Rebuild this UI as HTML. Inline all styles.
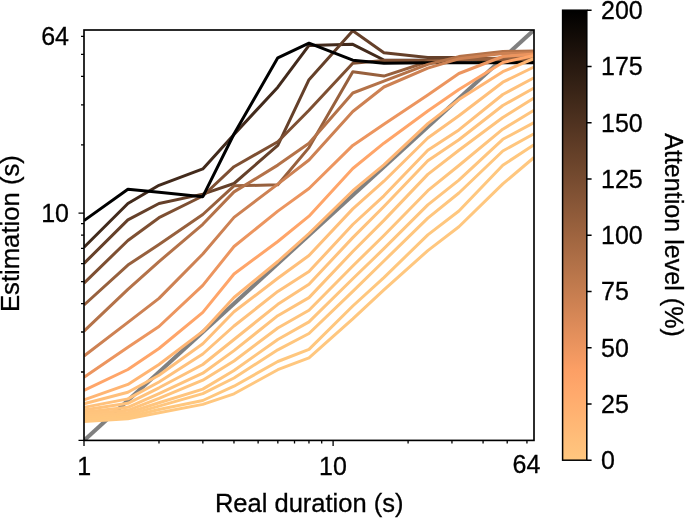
<!DOCTYPE html>
<html><head><meta charset="utf-8"><title>Estimation vs real duration</title>
<style>html,body{margin:0;padding:0;background:#fff}body{width:685px;height:518px;overflow:hidden}svg{display:block}text{font-family:"Liberation Sans",Arial,Helvetica,sans-serif;fill:#000}</style></head><body>
<svg width="685" height="518" viewBox="0 0 685 518">
<defs><linearGradient id="cg" x1="0" y1="0" x2="0" y2="1">
<stop offset="0.00" stop-color="#000000"/>
<stop offset="0.05" stop-color="#100a06"/>
<stop offset="0.10" stop-color="#20140d"/>
<stop offset="0.15" stop-color="#2f1e13"/>
<stop offset="0.20" stop-color="#3f2819"/>
<stop offset="0.25" stop-color="#4f3220"/>
<stop offset="0.30" stop-color="#5f3c26"/>
<stop offset="0.35" stop-color="#6e462c"/>
<stop offset="0.40" stop-color="#7e5033"/>
<stop offset="0.45" stop-color="#8e5a39"/>
<stop offset="0.50" stop-color="#9e643f"/>
<stop offset="0.55" stop-color="#ad6e46"/>
<stop offset="0.60" stop-color="#bd784c"/>
<stop offset="0.65" stop-color="#cd8152"/>
<stop offset="0.70" stop-color="#dd8b59"/>
<stop offset="0.75" stop-color="#ec955f"/>
<stop offset="0.80" stop-color="#fc9f65"/>
<stop offset="0.85" stop-color="#ffa96c"/>
<stop offset="0.90" stop-color="#ffb372"/>
<stop offset="0.95" stop-color="#ffbd79"/>
<stop offset="1.00" stop-color="#ffc77f"/>
</linearGradient><filter id="bl" x="-5%" y="-5%" width="110%" height="110%"><feGaussianBlur stdDeviation="0.45"/></filter><clipPath id="cp"><rect x="84" y="30" width="450" height="410.4"/></clipPath></defs>
<rect width="685" height="518" fill="#fff"/>
<g clip-path="url(#cp)" filter="url(#bl)">
<line x1="84" y1="440.4" x2="534" y2="30" stroke="#808080" stroke-width="4"/>
<polyline points="84,247.3 127.9,203.5 159,185.3 202.8,168.9 234,134.5 277.8,87.2 309,45.4 352.8,44.3 383.9,60 427.8,60.3 458.9,60 502.8,60.5 534,60.5" fill="none" stroke="#422a1b" stroke-width="3" stroke-linejoin="round" stroke-linecap="butt"/>
<polyline points="84,263.4 127.9,219.9 159,203.5 202.8,194.1 234,183.5 277.8,145.4 309,79.7 352.8,30.8 383.9,52.7 427.8,57.4 458.9,57.5 502.8,59 534,59.3" fill="none" stroke="#654029" stroke-width="3" stroke-linejoin="round" stroke-linecap="butt"/>
<polyline points="84,283.1 127.9,240.5 159,217.7 202.8,196 234,166.7 277.8,141.7 309,110.3 352.8,63.2 383.9,60.5 427.8,60.5 458.9,60 502.8,59.5 534,59" fill="none" stroke="#7e5033" stroke-width="3" stroke-linejoin="round" stroke-linecap="butt"/>
<polyline points="84,305 127.9,265.1 159,244.5 202.8,214.5 234,185.8 277.8,184.8 309,147.6 352.8,71.7 383.9,76.1 427.8,61.8 458.9,60 502.8,58 534,57.5" fill="none" stroke="#97603d" stroke-width="3" stroke-linejoin="round" stroke-linecap="butt"/>
<polyline points="84,220.6 127.9,189.2 159,192.3 202.8,196.7 234,134 277.8,57.8 309,43.2 352.8,60.2 383.9,63.2 427.8,62.7 458.9,62.8 502.8,62.8 534,62.8" fill="none" stroke="#000000" stroke-width="3" stroke-linejoin="round" stroke-linecap="butt"/>
<polyline points="84,331.2 127.9,289.3 159,261.6 202.8,224.3 234,191.9 277.8,165.1 309,143.2 352.8,93 383.9,81.2 427.8,64.4 458.9,56.6 502.8,51.5 534,51" fill="none" stroke="#b47248" stroke-width="3" stroke-linejoin="round" stroke-linecap="butt"/>
<polyline points="84,356 127.9,322.4 159,298.4 202.8,254 234,217.4 277.8,184.1 309,160 352.8,111.5 383.9,87 427.8,68.1 458.9,58.8 502.8,53.6 534,52.8" fill="none" stroke="#cd8152" stroke-width="3" stroke-linejoin="round" stroke-linecap="butt"/>
<polyline points="84,377.3 127.9,347.2 159,326.5 202.8,285.4 234,246.5 277.8,211.1 309,188.5 352.8,145.4 383.9,124.2 427.8,95 458.9,73.5 502.8,56.5 534,54" fill="none" stroke="#ec955f" stroke-width="3" stroke-linejoin="round" stroke-linecap="butt"/>
<polyline points="84,390.4 127.9,369.5 159,348.5 202.8,312.4 234,274 277.8,241.5 309,216.2 352.8,168.5 383.9,143.2 427.8,111 458.9,89.5 502.8,62.5 534,55.5" fill="none" stroke="#ffa569" stroke-width="3" stroke-linejoin="round" stroke-linecap="butt"/>
<polyline points="84,399.8 127.9,384.4 159,364.5 202.8,331.4 234,297.5 277.8,261.5 309,233.5 352.8,190.7 383.9,164.8 427.8,123.6 458.9,99.6 502.8,71.7 534,58.5" fill="none" stroke="#ffb573" stroke-width="3" stroke-linejoin="round" stroke-linecap="butt"/>
<polyline points="84,403.8 127.9,392.3 159,375.2 202.8,343.8 234,311.8 277.8,278.3 309,255.5 352.8,208.9 383.9,181.2 427.8,138 458.9,115.8 502.8,82.2 534,67" fill="none" stroke="#ffbf7a" stroke-width="3" stroke-linejoin="round" stroke-linecap="butt"/>
<polyline points="84,407.4 127.9,398.9 159,382 202.8,354 234,326 277.8,291.4 309,271.6 352.8,224.5 383.9,195.8 427.8,150.3 458.9,129.9 502.8,94.5 534,77.7" fill="none" stroke="#ffc17b" stroke-width="3" stroke-linejoin="round" stroke-linecap="butt"/>
<polyline points="84,410.1 127.9,403.3 159,387.8 202.8,364.5 234,339.5 277.8,304.3 309,284.3 352.8,237.6 383.9,206.5 427.8,160.8 458.9,139.8 502.8,105.5 534,88" fill="none" stroke="#ffc27c" stroke-width="3" stroke-linejoin="round" stroke-linecap="butt"/>
<polyline points="84,412.2 127.9,407.3 159,393.6 202.8,373.2 234,350.6 277.8,315.7 309,297.6 352.8,251.5 383.9,220.4 427.8,174.4 458.9,150.3 502.8,117.5 534,98" fill="none" stroke="#ffc37c" stroke-width="3" stroke-linejoin="round" stroke-linecap="butt"/>
<polyline points="84,414 127.9,410.3 159,398.4 202.8,380.2 234,361 277.8,328 309,310.2 352.8,266 383.9,235.5 427.8,190.7 458.9,165.5 502.8,129.2 534,110.3" fill="none" stroke="#ffc47d" stroke-width="3" stroke-linejoin="round" stroke-linecap="butt"/>
<polyline points="84,415.9 127.9,412.8 159,402.7 202.8,389.1 234,370.5 277.8,339.5 309,321.9 352.8,278.8 383.9,248.7 427.8,204.9 458.9,180.2 502.8,139.3 534,122.6" fill="none" stroke="#ffc57e" stroke-width="3" stroke-linejoin="round" stroke-linecap="butt"/>
<polyline points="84,417.8 127.9,415 159,406.1 202.8,393.6 234,378 277.8,349.8 309,333.5 352.8,291.4 383.9,261 427.8,218.1 458.9,193 502.8,151 534,133.7" fill="none" stroke="#ffc67e" stroke-width="3" stroke-linejoin="round" stroke-linecap="butt"/>
<polyline points="84,419.7 127.9,417 159,409.5 202.8,400.5 234,386.2 277.8,361.5 309,349.4 352.8,306 383.9,277.6 427.8,234.9 458.9,211 502.8,165.2 534,144.8" fill="none" stroke="#ffc77e" stroke-width="3" stroke-linejoin="round" stroke-linecap="butt"/>
<polyline points="84,421.4 127.9,418.7 159,412.7 202.8,404.4 234,393.8 277.8,369.7 309,357.8 352.8,318.8 383.9,289.8 427.8,250.6 458.9,226.8 502.8,183.9 534,157.5" fill="none" stroke="#ffc77f" stroke-width="3" stroke-linejoin="round" stroke-linecap="butt"/>
</g>
<rect x="84" y="30" width="450" height="410.4" fill="none" stroke="#000" stroke-width="1.65"/>
<path d="M84 440.4 v5.5 M84 440.4 h-5.5 M333.1 440.4 v5.5 M84 213.2 h-5.5 M158.987 440.4 v3 M84 372.006 h-3 M202.851 440.4 v3 M84 331.998 h-3 M233.973 440.4 v3 M84 303.612 h-3 M258.113 440.4 v3 M84 281.594 h-3 M277.837 440.4 v3 M84 263.604 h-3 M294.514 440.4 v3 M84 248.394 h-3 M308.96 440.4 v3 M84 235.218 h-3 M321.702 440.4 v3 M84 223.596 h-3 M408.087 440.4 v3 M84 144.806 h-3 M451.951 440.4 v3 M84 104.798 h-3 M483.073 440.4 v3 M84 76.412 h-3 M507.213 440.4 v3 M84 54.394 h-3 M526.937 440.4 v3 M84 36.404 h-3" stroke="#000" stroke-width="1.3" fill="none"/>
<g font-size="25" stroke="#000" stroke-width="0.3">
<text x="84.2" y="475.2" text-anchor="middle">1</text>
<text x="333" y="475.2" text-anchor="middle">10</text>
<text x="526.5" y="472.5" text-anchor="middle">64</text>
<text x="69" y="44.8" text-anchor="end">64</text>
<text x="69" y="221.6" text-anchor="end">10</text>
<text x="601" y="469.1">0</text>
<text x="601" y="412.85">25</text>
<text x="601" y="356.6">50</text>
<text x="601" y="300.35">75</text>
<text x="601" y="244.1">100</text>
<text x="601" y="187.85">125</text>
<text x="601" y="131.6">150</text>
<text x="601" y="75.35">175</text>
<text x="601" y="19.1">200</text>
<text x="309.2" y="512.4" font-size="25.5" text-anchor="middle">Real duration (s)</text>
<text transform="translate(18.8,233.6) rotate(-90)" font-size="25.7" text-anchor="middle">Estimation (s)</text>
<text transform="translate(665.4,235) rotate(90)" font-size="25.1" text-anchor="middle">Attention level (%)</text>
</g>
<rect x="562.6" y="10.2" width="24.2" height="450" fill="url(#cg)" stroke="#000" stroke-width="1.5"/>
<path d="M587 460.2 h4.6 M587 403.95 h4.6 M587 347.7 h4.6 M587 291.45 h4.6 M587 235.2 h4.6 M587 178.95 h4.6 M587 122.7 h4.6 M587 66.45 h4.6 M587 10.2 h4.6" stroke="#000" stroke-width="1.4" fill="none"/>
</svg></body></html>
